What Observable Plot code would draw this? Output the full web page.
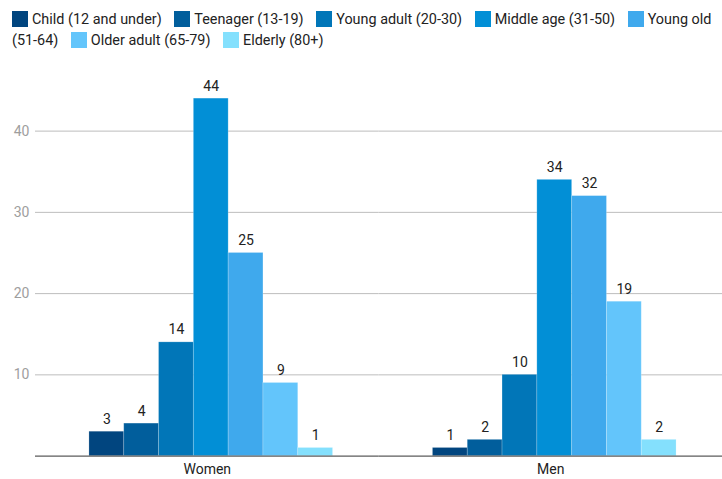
<!DOCTYPE html>
<html>
<head>
<meta charset="utf-8">
<script src="https://cdn.jsdelivr.net/npm/d3@7"></script>
<script src="https://cdn.jsdelivr.net/npm/@observablehq/plot@0.6"></script>
<style>
  body { margin: 0; background: #fff; font-family: Roboto, "Noto Sans", sans-serif; }
  #legend { box-sizing: border-box; width: 722px; height: 55px; padding: 9px 4px 0 12px; font-size: 14.4px; line-height: 21px; color: #222; }
  #legend .sw { display: inline-block; width: 16px; height: 16px; vertical-align: -3px; margin-right: 4px; }
  #legend .sw.next { margin-left: 9px; }
  #chart svg { display: block; }
</style>
</head>
<body>
<div id="legend"></div>
<div id="chart"></div>
<script>
const groups = ["Women", "Men"];
const ages = ["Child (12 and under)", "Teenager (13-19)", "Young adult (20-30)", "Middle age (31-50)", "Young old (51-64)", "Older adult (65-79)", "Elderly (80+)"];
const women = [3, 4, 14, 44, 25, 9, 1];
const men = [1, 2, 10, 34, 32, 19, 2];
const colors = ["#01457f", "#015e9c", "#0176b8", "#028fd6", "#3fa9ed", "#63c5fb", "#84e0fd"];
const yTicks = [10, 20, 30, 40];

const seriesByGroup = {Women: women, Men: men};
const data = [];
for (const g of groups) ages.forEach((a, i) => data.push({group: g, age: a, value: seriesByGroup[g][i]}));

// legend: swatches and one span per word, so a wrapped label stays as separate one-line boxes
const legend = document.getElementById("legend");
ages.forEach((a, i) => {
  if (i > 0) legend.appendChild(document.createTextNode(" "));
  const sw = document.createElement("span");
  sw.className = i > 0 ? "sw next" : "sw";
  sw.style.background = colors[i];
  legend.appendChild(sw);
  a.split(" ").forEach((w, j) => {
    if (j > 0) legend.appendChild(document.createTextNode(" "));
    const t = document.createElement("span");
    t.textContent = w;
    legend.appendChild(t);
  });
});

const chart = Plot.plot({
  width: 722,
  height: 424,
  marginLeft: 35,
  marginRight: 0,
  marginTop: 35,
  marginBottom: 23.4,
  style: {fontFamily: "Roboto, sans-serif", fontSize: "14px", background: "transparent"},
  fx: {domain: groups, padding: 0, axis: null, round: false},
  x: {domain: ages, paddingInner: 0, paddingOuter: 1.435, align: 0.54, round: false, axis: null},
  y: {domain: [0, 45], axis: null},
  color: {domain: ages, range: colors},
  marks: [
    Plot.ruleY(yTicks, {stroke: "#bdbdbd", strokeWidth: 1}),
    Plot.barY(data, {fx: "group", x: "age", y: "value", fill: "age", stroke: "#ffffff", strokeOpacity: 0.25, strokeWidth: 0.8}),
    Plot.ruleY([0], {stroke: "#333", strokeWidth: 1}),
    Plot.text(data, {fx: "group", x: "age", y: "value", text: d => String(d.value), dy: -8, lineAnchor: "bottom", fill: "#222", fontSize: 14}),
    Plot.text(yTicks, {fx: () => "Women", y: d => d, text: d => String(d), frameAnchor: "left", textAnchor: "end", dx: -6, fill: "#9e9e9e", fontSize: 14}),
    Plot.text(groups, {fx: d => d, text: d => d, frameAnchor: "bottom", dy: 13, lineAnchor: "middle", fill: "#222", fontSize: 14})
  ]
});
document.getElementById("chart").appendChild(chart);
</script>
</body>
</html>
